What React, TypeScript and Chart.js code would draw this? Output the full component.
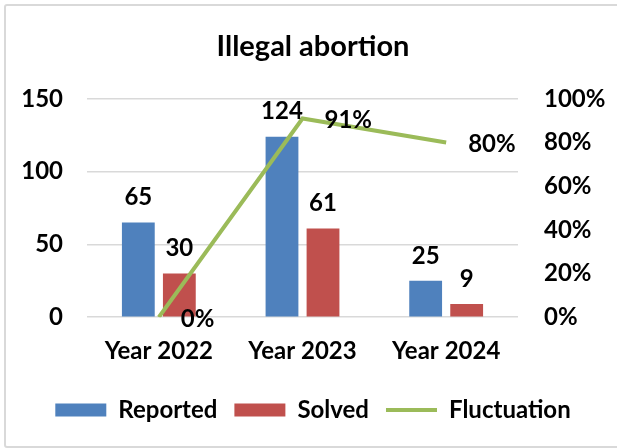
import React, { useEffect, useRef } from "react";
import { Chart, registerables } from "chart.js";

Chart.register(...registerables);

const categories = ["Year 2022", "Year 2023", "Year 2024"];
const reported = [65, 124, 25];
const solved = [30, 61, 9];
const fluctuation = [0, 91, 80];

const FONT = "Lato";
const BLUE = "#4F81BD";
const RED = "#C0504D";
const GREEN = "#9BBB59";

const labelPlugin = {
  id: "valueLabels",
  afterDatasetsDraw(chart: any) {
    const ctx = chart.ctx;
    ctx.save();
    ctx.font = `bold 24px ${FONT}`;
    ctx.fillStyle = "#000";
    chart.data.datasets.forEach((ds: any, di: number) => {
      const meta = chart.getDatasetMeta(di);
      meta.data.forEach((el: any, i: number) => {
        const v = ds.data[i];
        if (ds.type === "line") {
          ctx.textAlign = "left";
          ctx.textBaseline = "middle";
          ctx.fillText(v + "%", el.x + 22, el.y + 2);
        } else {
          ctx.textAlign = "center";
          ctx.textBaseline = "middle";
          ctx.fillText(String(v), el.x, el.y - 25);
        }
      });
    });
    ctx.restore();
  },
};

export default function App() {
  const ref = useRef<HTMLCanvasElement>(null);
  useEffect(() => {
    const chart = new Chart(ref.current as HTMLCanvasElement, {
      type: "bar",
      data: {
        labels: categories,
        datasets: [
          {
            type: "bar",
            label: "Reported",
            data: reported,
            backgroundColor: BLUE,
            yAxisID: "y",
            order: 1,
            categoryPercentage: 0.571,
            barPercentage: 0.8,
          },
          {
            type: "bar",
            label: "Solved",
            data: solved,
            backgroundColor: RED,
            yAxisID: "y",
            order: 1,
            categoryPercentage: 0.571,
            barPercentage: 0.8,
          },
          {
            type: "line",
            label: "Fluctuation",
            data: fluctuation,
            borderColor: GREEN,
            backgroundColor: GREEN,
            borderWidth: 4,
            pointRadius: 0,
            tension: 0,
            yAxisID: "y1",
            order: 0,
          },
        ] as any,
      },
      options: {
        responsive: false,
        animation: false,
        color: "#000",
        layout: { padding: { left: 9, right: 0, top: 0, bottom: 16 } },
        plugins: {
          tooltip: { enabled: false },
          title: {
            display: true,
            text: "Illegal abortion",
            color: "#000",
            font: { family: FONT, size: 29, weight: "bold" },
            padding: { top: 29, bottom: 35 },
          },
          legend: {
            position: "bottom",
            labels: {
              color: "#000",
              font: { family: FONT, size: 24, weight: "bold" },
              usePointStyle: true,
              pointStyleWidth: 51,
              boxHeight: 13,
              padding: 17,
              generateLabels: (chart: any) =>
                chart.data.datasets.map((ds: any, i: number) => {
                  const isLine = ds.type === "line";
                  const c = isLine ? ds.borderColor : ds.backgroundColor;
                  return {
                    text: ds.label,
                    fillStyle: c,
                    strokeStyle: c,
                    lineWidth: isLine ? 4 : 0,
                    pointStyle: isLine ? "line" : "rect",
                    hidden: false,
                    datasetIndex: i,
                    fontColor: "#000",
                  };
                }),
            },
          },
        },
        scales: {
          x: {
            grid: { display: false, drawTicks: false },
            border: { display: false },
            ticks: {
              color: "#000",
              font: { family: FONT, size: 24, weight: "bold" },
              padding: 20,
              maxRotation: 0,
            },
            afterFit: (axis: any) => {
              axis.height -= 5;
            },
          },
          y: {
            position: "left",
            min: 0,
            max: 150,
            grid: { color: "#d9d9d9", lineWidth: 1.5, drawTicks: false },
            border: { display: false },
            ticks: {
              stepSize: 50,
              color: "#000",
              font: { family: FONT, size: 24, weight: "bold" },
              padding: 24,
            },
            afterFit: (axis: any) => {
              axis.width = 78;
            },
          },
          y1: {
            position: "right",
            min: 0,
            max: 100,
            grid: { display: false, drawTicks: false },
            border: { display: false },
            ticks: {
              stepSize: 20,
              color: "#000",
              font: { family: FONT, size: 24, weight: "bold" },
              padding: 26,
              callback: (v: any) => v + "%",
            },
            afterFit: (axis: any) => {
              axis.width = 99;
            },
          },
        },
      },
      plugins: [labelPlugin],
    });
    return () => chart.destroy();
  }, []);

  return (
    <div
      style={{
        position: "fixed",
        left: 0,
        top: 0,
        width: 617,
        height: 448,
        overflow: "hidden",
        background: "#fff",
      }}
    >
      <div
        style={{
          position: "absolute",
          left: 4,
          top: 4,
          width: 700,
          height: 444,
          boxSizing: "border-box",
          border: "2px solid #d9d9d9",
          borderRadius: 3,
        }}
      />
      <canvas
        ref={ref}
        width={617}
        height={448}
        style={{ position: "absolute", left: 0, top: 0, width: 617, height: 448 }}
      />
    </div>
  );
}
